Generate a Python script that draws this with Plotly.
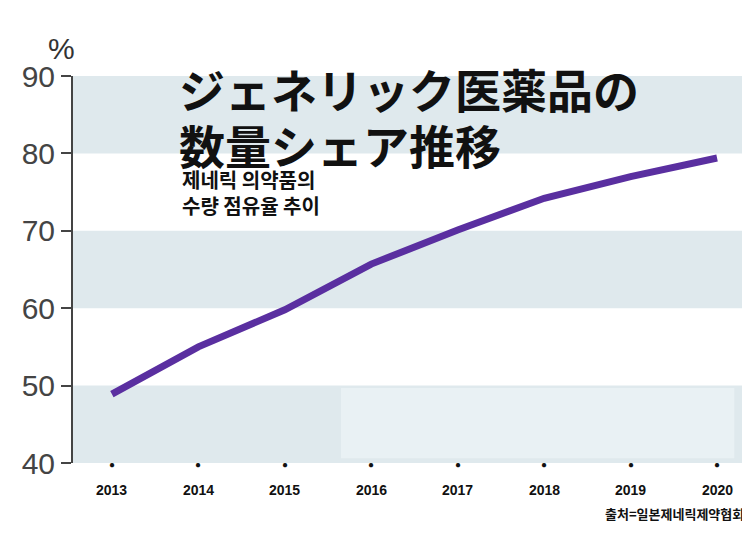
import plotly.graph_objects as go

years = [2013, 2014, 2015, 2016, 2017, 2018, 2019, 2020]
share = [48.9, 55.0, 59.8, 65.7, 70.1, 74.2, 77.0, 79.4]
y_ticks = [40, 50, 60, 70, 80, 90]
bands = [(40, 50), (60, 70), (80, 90)]

fig = go.Figure()
for lo, hi in bands:
    fig.add_shape(type="rect", xref="paper", x0=0, x1=1, yref="y", y0=lo, y1=hi,
                  fillcolor="#dfe9ed", line_width=0, layer="below")
fig.add_shape(type="rect", xref="x", x0=2015.65, x1=2020.2, yref="y", y0=40.6, y1=49.7,
              fillcolor="#e9f1f4", line_width=0, layer="below")

fig.add_trace(go.Scatter(x=years, y=share, mode="lines",
                         line=dict(color="#5a2fa0", width=7), hoverinfo="skip"))

for yv in years:
    fig.add_annotation(x=yv, y=-0.026, yref="paper", text="●", showarrow=False,
                       font=dict(size=10, color="#111"))
    fig.add_annotation(x=yv, y=-0.096, yref="paper", text=f"<b>{yv}</b>", showarrow=False,
                       font=dict(size=14, color="#111", family="Liberation Sans"))

fig.add_annotation(x=-0.04, y=1.12, xref="paper", yref="paper", text="%", showarrow=False,
                   font=dict(size=30, color="#333", family="Liberation Sans"))
fig.add_annotation(x=0.155, y=1.06, xref="paper", yref="paper", xanchor="left",
                   text="<b>ジェネリック医薬品の</b>", showarrow=False,
                   font=dict(size=46, color="#111", family="Noto Sans CJK JP"))
fig.add_annotation(x=0.155, y=0.915, xref="paper", yref="paper", xanchor="left",
                   text="<b>数量シェア推移</b>", showarrow=False,
                   font=dict(size=46, color="#111", family="Noto Sans CJK JP"))
fig.add_annotation(x=0.16, y=0.775, xref="paper", yref="paper", xanchor="left", align="left",
                   text="<b>제네릭 의약품의<br>수량 점유율 추이</b>", showarrow=False,
                   font=dict(size=20, color="#111", family="Noto Sans CJK KR"))
fig.add_annotation(x=1.005, y=-0.16, xref="paper", yref="paper", xanchor="right",
                   text="<b>출처=일본제네릭제약협회</b>", showarrow=False,
                   font=dict(size=13, color="#111", family="Noto Sans CJK KR"))

fig.update_layout(
    width=750, height=533, margin=dict(l=65, r=15, t=68, b=78),
    paper_bgcolor="white", plot_bgcolor="white", showlegend=False,
    xaxis=dict(range=[2012.55, 2020.3], showticklabels=False, showgrid=False,
               zeroline=False, showline=False),
    yaxis=dict(range=[40, 90], tickvals=y_ticks, showgrid=False, zeroline=False,
               showline=True, linecolor="#444", linewidth=2, ticks="outside",
               ticklen=10, tickcolor="#444", tickwidth=2,
               tickfont=dict(size=30, color="#444", family="Liberation Sans")),
)
fig.write_html("out.html")
